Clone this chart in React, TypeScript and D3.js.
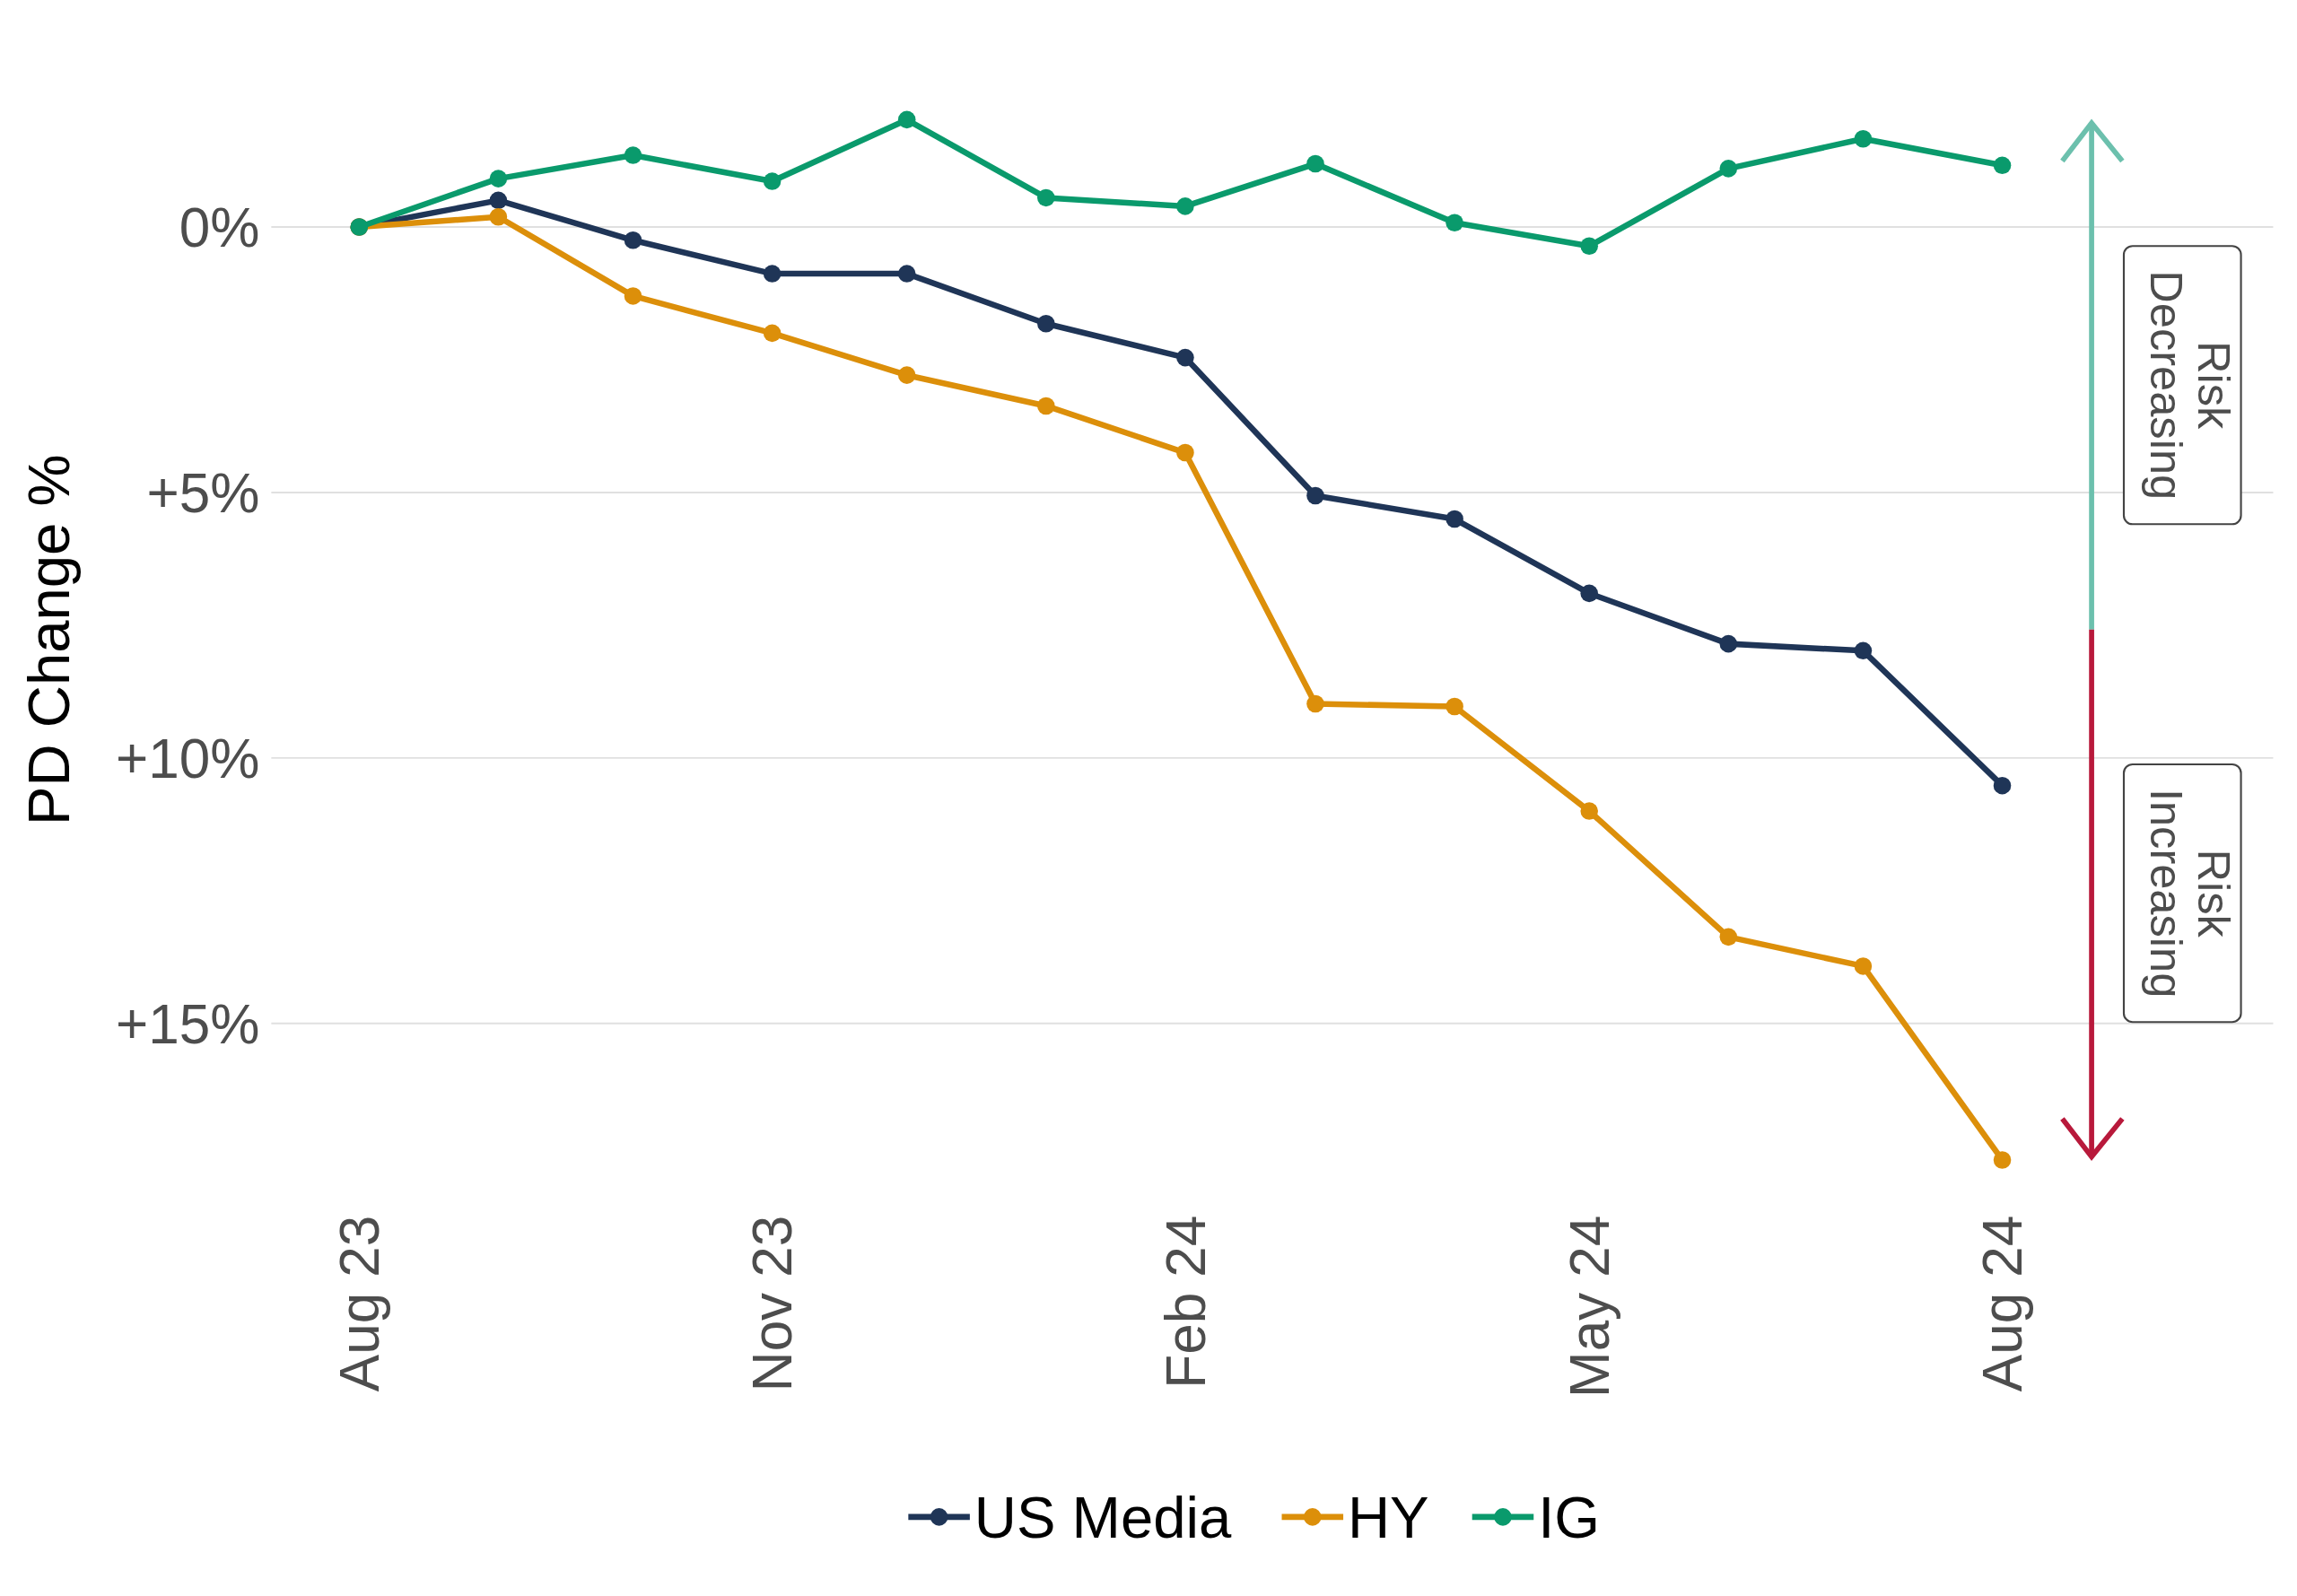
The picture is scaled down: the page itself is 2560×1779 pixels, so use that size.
import * as d3 from "d3";

const months = ["2023-08","2023-09","2023-10","2023-11","2023-12","2024-01","2024-02","2024-03","2024-04","2024-05","2024-06","2024-07","2024-08"];
const usMedia = [0, -0.5, 0.25, 0.88, 0.88, 1.82, 2.46, 5.06, 5.5, 6.9, 7.85, 7.98, 10.52];
const hy = [0, -0.19, 1.3, 2.0, 2.79, 3.37, 4.25, 8.98, 9.03, 11.0, 13.37, 13.92, 17.57];
const ig = [0, -0.91, -1.35, -0.86, -2.02, -0.55, -0.39, -1.19, -0.08, 0.36, -1.1, -1.66, -1.16];
const yTicks = [0, 5, 10, 15];
const xTickMonths = ["2023-08", "2023-11", "2024-02", "2024-05", "2024-08"];

const series = [
  { name: "US Media", values: usMedia, color: "#1f3557" },
  { name: "HY", values: hy, color: "#dc8f0a" },
  { name: "IG", values: ig, color: "#0a9a6c" },
];

const W = 1568, H = 1090;
const parse = (s: string) => new Date(s + "-01");

export default function App() {
  const x = d3.scaleTime().domain([parse(months[0]), parse(months[12])]).range([245, 1367]);
  const y = d3.scaleLinear().domain([0, 15]).range([155, 699]);
  const line = d3.line<number>().x((_, i) => x(parse(months[i]))).y((v) => y(v));
  const font = "Arial, 'Liberation Sans', sans-serif";
  const fmt = (v: number) => (v === 0 ? "0%" : `+${v}%`);
  const legendItems = [
    { x: 620 },
    { x: 875 },
    { x: 1005 },
  ];
  return (
    <svg width={2560} height={1779} viewBox={`0 0 ${W} ${H}`} style={{ display: "block", margin: -8 }} fontFamily={font}>
      <rect width={W} height={H} fill="#fff" />
      {yTicks.map((t) => (
        <g key={t}>
          <line x1={185} x2={1552} y1={y(t)} y2={y(t)} stroke="#e0e0e0" strokeWidth={1.2} />
          <text x={177} y={y(t)} dy="0.35em" textAnchor="end" fontSize={38} fill="#4d4d4d">{fmt(t)}</text>
        </g>
      ))}
      {xTickMonths.map((m) => {
        const d = parse(m);
        return (
          <text key={m} transform={`translate(${x(d)},830) rotate(-90)`} dy="0.35em" textAnchor="end" fontSize={38} fill="#4d4d4d">
            {d3.timeFormat("%b %y")(d)}
          </text>
        );
      })}
      <text transform="translate(33,437) rotate(-90)" dy="0.35em" textAnchor="middle" fontSize={40} fill="#000">PD Change %</text>
      {series.map((s) => (
        <g key={s.name}>
          <path d={line(s.values) ?? ""} fill="none" stroke={s.color} strokeWidth={4} strokeLinejoin="round" />
          {s.values.map((v, i) => (
            <circle key={i} cx={x(parse(months[i]))} cy={y(v)} r={6} fill={s.color} />
          ))}
        </g>
      ))}
      {/* risk arrow */}
      <line x1={1428} x2={1428} y1={84} y2={430} stroke="#6cc0ad" strokeWidth={3.5} />
      <path d="M1408,110 L1428,84 L1449,110" fill="none" stroke="#6cc0ad" strokeWidth={3.5} />
      <line x1={1428} x2={1428} y1={430} y2={790} stroke="#b8193b" strokeWidth={3.5} />
      <path d="M1408,764 L1428,790 L1449,764" fill="none" stroke="#b8193b" strokeWidth={3.5} />
      {[
        { y0: 168, y1: 358, lines: ["Risk", "Decreasing"] },
        { y0: 522, y1: 698, lines: ["Risk", "Increasing"] },
      ].map((b) => (
        <g key={b.lines[1]}>
          <rect x={1450} y={b.y0} width={80} height={b.y1 - b.y0} rx={6} fill="#fff" stroke="#444" strokeWidth={1.3} />
          <text transform={`translate(1490,${(b.y0 + b.y1) / 2}) rotate(90)`} textAnchor="middle" fontSize={31} fill="#4d4d4d">
            <tspan x={0} dy="-0.35em">{b.lines[0]}</tspan>
            <tspan x={0} dy="1.05em">{b.lines[1]}</tspan>
          </text>
        </g>
      ))}
      {series.map((s, i) => (
        <g key={s.name} transform={`translate(${legendItems[i].x},1036)`}>
          <line x1={0} x2={42} stroke={s.color} strokeWidth={4} />
          <circle cx={21} r={6} fill={s.color} />
          <text x={45} dy="0.35em" fontSize={40} fill="#000">{s.name}</text>
        </g>
      ))}
    </svg>
  );
}
